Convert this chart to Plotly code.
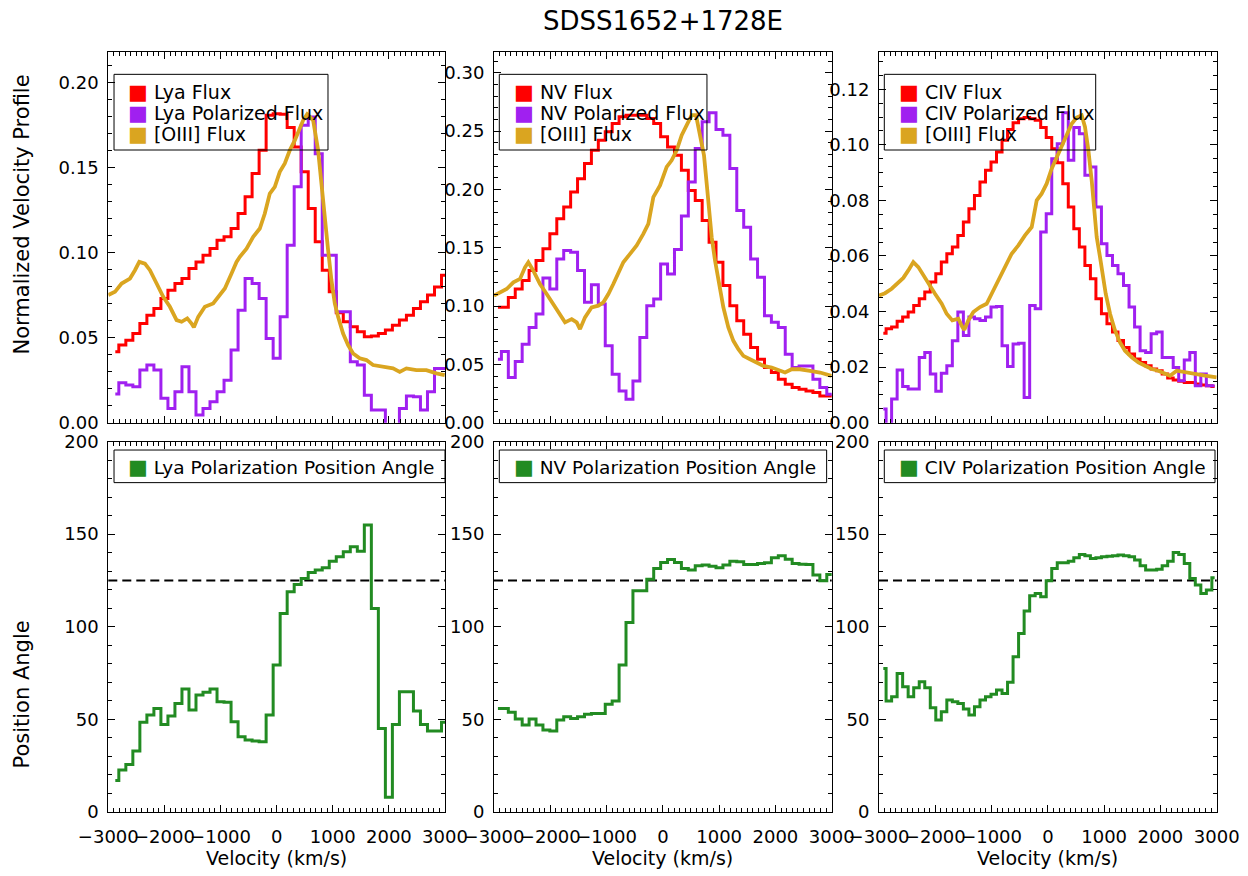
import plotly.graph_objects as go

TITLE = "SDSS1652+1728E"
FONT = "DejaVu Sans"
RED = "#FF0000"
PURPLE = "#A020F0"
GOLD = "#DAA520"
GREEN = "#228B22"
PA_REF = 125

# ---------------- Ly-alpha (125 km/s bins) ----------------
v_lya = [-2875, -2750, -2625, -2500, -2375, -2250, -2125, -2000, -1875, -1750,
         -1625, -1500, -1375, -1250, -1125, -1000, -875, -750, -625, -500,
         -375, -250, -125, 0, 125, 250, 375, 500, 625, 750,
         875, 1000, 1125, 1250, 1375, 1500, 1625, 1750, 1875, 2000,
         2125, 2250, 2375, 2500, 2625, 2750, 2875, 3000]
lya_flux = [0.0417, 0.0456, 0.0485, 0.0524, 0.0583, 0.0632, 0.0671, 0.0730, 0.0779, 0.0818,
            0.0847, 0.0906, 0.0945, 0.0984, 0.1023, 0.1072, 0.1092, 0.1141, 0.1229, 0.1327,
            0.1464, 0.1601, 0.1806, 0.1816, 0.1812, 0.1734, 0.1620, 0.1474, 0.1258, 0.1063,
            0.0896, 0.0769, 0.0646, 0.0593, 0.0564, 0.0534, 0.0505, 0.0509, 0.0524, 0.0544,
            0.0573, 0.0603, 0.0632, 0.0671, 0.0710, 0.0750, 0.0798, 0.0867]
lya_pol = [0.0168, 0.0235, 0.0221, 0.0211, 0.0309, 0.0339, 0.0309, 0.0143, 0.0084, 0.0182,
           0.0329, 0.0182, 0.0045, 0.0084, 0.0123, 0.0182, 0.0250, 0.0427, 0.0661, 0.0847,
           0.0818, 0.0730, 0.0495, 0.0378, 0.0622, 0.1043, 0.1386, 0.1748, 0.1796, 0.1581,
           0.0984, 0.0984, 0.0652, 0.0652, 0.0358, 0.0339, 0.0162, 0.0074, 0.0074, -0.005,
           -0.005, 0.0084, 0.0157, 0.0153, 0.0074, 0.0182, 0.0319, 0.0319]
lya_pa = [17.0, 22.7, 25.7, 32.9, 48.4, 52.3, 55.9, 47.3, 51.8, 58.6,
          66.4, 55.0, 63.1, 64.6, 66.4, 59.5, 59.2, 48.7, 40.6, 38.8,
          38.3, 37.9, 52.3, 79.3, 107.2, 118.9, 122.8, 126.0, 129.3, 130.6,
          131.8, 135.4, 137.8, 140.5, 143.2, 140.8, 154.9, 109.9, 45.1, 7.9,
          47.3, 64.9, 64.9, 54.5, 47.3, 43.7, 43.7, 48.4]
oiii_v_lya = [-3000, -2881, -2763, -2614, -2525, -2448, -2347, -2258, -2139, -2021,
              -1902, -1783, -1694, -1593, -1516, -1475, -1398, -1279, -1131, -1042,
              -923, -804, -715, -656, -537, -418, -300, -211, -122, -33,
              56, 145, 234, 323, 412, 472, 543, 650, 739, 798,
              858, 917, 976, 1036, 1095, 1184, 1273, 1362, 1481, 1599,
              1718, 1896, 2074, 2193, 2312, 2490, 2668, 2846, 2994]
oiii_f_lya = [0.0750, 0.0769, 0.0818, 0.0847, 0.0896, 0.0945, 0.0935, 0.0896, 0.0818, 0.0740,
              0.0681, 0.0603, 0.0593, 0.0613, 0.0583, 0.0560, 0.0622, 0.0681, 0.0701, 0.0740,
              0.0789, 0.0877, 0.0945, 0.0975, 0.1023, 0.1092, 0.1141, 0.1229, 0.1346, 0.1386,
              0.1474, 0.1523, 0.1601, 0.1659, 0.1738, 0.1777, 0.1812, 0.1777, 0.1601, 0.1405,
              0.1170, 0.1014, 0.0838, 0.0701, 0.0622, 0.0524, 0.0456, 0.0407, 0.0378, 0.0368,
              0.0339, 0.0329, 0.0319, 0.0299, 0.0319, 0.0309, 0.0309, 0.0290, 0.0280]

# ---------------- N V (123 km/s bins) ----------------
v_nv = [-2930, -2807, -2684, -2561, -2438, -2315, -2192, -2069, -1946, -1823,
        -1700, -1577, -1454, -1331, -1208, -1085, -962, -839, -716, -593,
        -470, -347, -224, -101, 22, 145, 268, 391, 514, 637,
        760, 883, 1006, 1129, 1252, 1375, 1498, 1621, 1744, 1867,
        1990, 2113, 2236, 2359, 2482, 2605, 2728, 2851, 2974, 3097]
nv_flux = [0.0989, 0.0989, 0.1074, 0.1146, 0.1218, 0.1304, 0.1390, 0.1490, 0.1619, 0.1748,
           0.1848, 0.1977, 0.2092, 0.2221, 0.2335, 0.2421, 0.2493, 0.2564, 0.2622, 0.2636,
           0.2636, 0.2636, 0.2607, 0.2564, 0.2450, 0.2364, 0.2292, 0.2163, 0.1991, 0.1905,
           0.1734, 0.1547, 0.1375, 0.1175, 0.1003, 0.0874, 0.0759, 0.0645, 0.0544, 0.0473,
           0.0430, 0.0372, 0.0330, 0.0301, 0.0287, 0.0272, 0.0258, 0.0229, 0.0229, 0.0221]
nv_pol = [0.0544, 0.0610, 0.0387, 0.0524, 0.0673, 0.0817, 0.0931, 0.1241, 0.1146, 0.1404,
          0.1476, 0.1461, 0.1304, 0.1032, 0.1183, 0.1017, 0.0659, 0.0415, 0.0272, 0.0201,
          0.0358, 0.0731, 0.1003, 0.1060, 0.1361, 0.1275, 0.1484, 0.1771, 0.2063, 0.2350,
          0.2579, 0.2656, 0.2513, 0.2464, 0.2178, 0.1819, 0.1676, 0.1404, 0.1246, 0.0917,
          0.0860, 0.0817, 0.0587, 0.0473, 0.0487, 0.0487, 0.0372, 0.0301, 0.0244, 0.0244]
nv_pa = [55.9, 55.9, 53.8, 50.2, 46.9, 50.2, 46.9, 44.2, 43.7, 49.6,
         51.4, 50.5, 51.4, 52.7, 53.2, 53.2, 58.1, 59.9, 79.3, 102.3,
         119.4, 119.4, 125.7, 131.5, 134.7, 136.3, 134.7, 131.5, 130.6, 132.9,
         133.3, 132.7, 131.8, 133.3, 135.4, 135.1, 133.6, 133.6, 134.2, 134.5,
         137.2, 138.3, 136.5, 134.2, 133.8, 133.6, 127.9, 124.8, 128.2, 128.2]
oiii_v_nv = [-3000, -2893, -2775, -2656, -2538, -2449, -2390, -2301, -2183, -2064,
             -1946, -1827, -1738, -1620, -1531, -1472, -1383, -1265, -1146, -1057,
             -968, -880, -791, -702, -583, -465, -347, -258, -169, -50,
             68, 157, 246, 335, 424, 512, 589, 660, 731, 779,
             826, 868, 927, 986, 1075, 1164, 1253, 1342, 1430, 1549,
             1667, 1786, 1934, 2082, 2171, 2289, 2437, 2615, 2793, 3000]
oiii_f_nv = [0.1089, 0.1117, 0.1146, 0.1203, 0.1232, 0.1332, 0.1375, 0.1304, 0.1189, 0.1103,
             0.1017, 0.0931, 0.0860, 0.0888, 0.0860, 0.0802, 0.0903, 0.0989, 0.1003, 0.1032,
             0.1103, 0.1189, 0.1275, 0.1375, 0.1447, 0.1519, 0.1619, 0.1705, 0.1934, 0.2034,
             0.2192, 0.2249, 0.2335, 0.2464, 0.2550, 0.2636, 0.2636, 0.2479, 0.2292, 0.2049,
             0.1791, 0.1590, 0.1390, 0.1218, 0.0989, 0.0817, 0.0702, 0.0630, 0.0573, 0.0544,
             0.0516, 0.0487, 0.0473, 0.0444, 0.0430, 0.0458, 0.0458, 0.0444, 0.0430, 0.0401]

# ---------------- C IV (98 km/s bins) ----------------
v_civ = [-2923, -2825, -2727, -2629, -2531, -2433, -2334, -2236, -2138, -2040,
         -1942, -1844, -1746, -1648, -1550, -1452, -1353, -1255, -1157, -1059,
         -961, -863, -765, -667, -569, -471, -372, -274, -176, -78,
         20, 118, 216, 314, 412, 510, 609, 707, 805, 903,
         1001, 1099, 1197, 1295, 1393, 1492, 1590, 1688, 1786, 1884,
         1982, 2080, 2178, 2276, 2374, 2473, 2571, 2669, 2767, 2865, 2963]
civ_flux = [0.0322, 0.0338, 0.0344, 0.0365, 0.0380, 0.0398, 0.0422, 0.0446, 0.0470, 0.0506,
            0.0536, 0.0578, 0.0608, 0.0632, 0.0674, 0.0722, 0.0770, 0.0818, 0.0866, 0.0908,
            0.0938, 0.0974, 0.1016, 0.1055, 0.1079, 0.1094, 0.1098, 0.1094, 0.1088, 0.1062,
            0.1026, 0.0986, 0.0935, 0.0860, 0.0776, 0.0698, 0.0632, 0.0566, 0.0518, 0.0446,
            0.0392, 0.0356, 0.0326, 0.0296, 0.0271, 0.0247, 0.0229, 0.0217, 0.0205, 0.0193,
            0.0187, 0.0175, 0.0161, 0.0154, 0.0149, 0.0145, 0.0145, 0.0139, 0.0136, 0.0133, 0.0130]
civ_pol = [0.0049, -0.003, 0.0085, 0.0190, 0.0130, 0.0121, 0.0121, 0.0235, 0.0253, 0.0175,
           0.0113, 0.0178, 0.0205, 0.0295, 0.0398, 0.0314, 0.0380, 0.0374, 0.0368, 0.0380,
           0.0416, 0.0418, 0.0277, 0.0202, 0.0283, 0.0286, 0.0091, 0.0422, 0.0410, 0.0686,
           0.0752, 0.0950, 0.1004, 0.1115, 0.0944, 0.1062, 0.1040, 0.0890, 0.0920, 0.0776,
           0.0644, 0.0602, 0.0566, 0.0536, 0.0494, 0.0416, 0.0344, 0.0259, 0.0253, 0.0320,
           0.0326, 0.0235, 0.0235, 0.0199, 0.0151, 0.0226, 0.0253, 0.0133, 0.0175, 0.0133, 0.0133]
civ_pa = [77.5, 59.9, 62.2, 74.8, 67.6, 62.2, 67.1, 70.3, 67.1, 56.3,
          49.6, 54.1, 60.4, 59.5, 58.6, 55.6, 52.3, 56.8, 60.4, 62.2,
          63.5, 65.8, 64.0, 70.0, 83.8, 96.4, 108.5, 116.7, 118.0, 116.2,
          124.8, 131.5, 134.5, 134.5, 135.4, 137.2, 139.0, 138.3, 136.9, 137.2,
          137.8, 138.1, 138.3, 138.7, 138.3, 137.8, 136.0, 132.9, 130.6, 130.6,
          131.1, 132.9, 135.4, 140.1, 139.0, 134.2, 126.1, 122.5, 118.0, 119.8, 126.4]
oiii_v_civ = [-3000, -2893, -2775, -2656, -2568, -2479, -2390, -2301, -2212, -2123,
              -2005, -1886, -1798, -1697, -1590, -1519, -1484, -1413, -1324, -1205,
              -1087, -998, -909, -820, -732, -643, -524, -406, -287, -198,
              -110, -21, 68, 157, 246, 335, 424, 512, 601, 660,
              720, 779, 826, 868, 927, 968, 1028, 1105, 1193, 1282,
              1371, 1490, 1608, 1727, 1845, 1963, 2082, 2171, 2289, 2437,
              2615, 2793, 3000]
oiii_f_civ = [0.0458, 0.0466, 0.0482, 0.0506, 0.0521, 0.0548, 0.0578, 0.0560, 0.0530, 0.0500,
              0.0464, 0.0428, 0.0392, 0.0368, 0.0374, 0.0344, 0.0334, 0.0368, 0.0398, 0.0416,
              0.0428, 0.0464, 0.0500, 0.0536, 0.0578, 0.0608, 0.0638, 0.0674, 0.0704, 0.0800,
              0.0824, 0.0860, 0.0914, 0.0956, 0.0998, 0.1034, 0.1076, 0.1098, 0.1106, 0.1064,
              0.0980, 0.0872, 0.0752, 0.0668, 0.0596, 0.0536, 0.0464, 0.0392, 0.0332, 0.0289,
              0.0259, 0.0235, 0.0217, 0.0205, 0.0193, 0.0187, 0.0175, 0.0169, 0.0187, 0.0181,
              0.0175, 0.0169, 0.0163]

ions = ["Lya", "NV", "CIV"]
flux_ranges = [[0, 0.218], [0, 0.318], [0, 0.1335]]
flux_dticks = [0.05, 0.05, 0.02]
flux_minor = [0.01, 0.01, 0.005]
PA_RANGE = [0, 200]

panels = [
    (v_lya, lya_flux, lya_pol, lya_pa, oiii_v_lya, oiii_f_lya),
    (v_nv, nv_flux, nv_pol, nv_pa, oiii_v_nv, oiii_f_nv),
    (v_civ, civ_flux, civ_pol, civ_pa, oiii_v_civ, oiii_f_civ),
]

W, H = 1248, 876
X_DOM = [[108.3 / W, 445.0 / W], [494.0 / W, 831.7 / W], [879.0 / W, 1216.7 / W]]
Y_TOP = [1 - 422.7 / H, 1 - 51.7 / H]
Y_BOT = [1 - 812.0 / H, 1 - 441.5 / H]

fig = go.Figure()

tickfont = dict(family=FONT, size=18, color="black")
LEG_SIZE_TOP = 19
LEG_SIZE_BOT = 18.5


def axname(i):
    return "" if i == 1 else str(i)


def xaxis_style(dom, anchor, labels):
    return dict(domain=dom, anchor=anchor, range=[-3000, 3000], dtick=1000, tick0=0,
                ticks="inside", ticklen=7, tickwidth=1, tickcolor="black",
                showline=True, linecolor="black", linewidth=1, mirror="ticks",
                showgrid=False, zeroline=False, tickangle=0, automargin=False,
                showticklabels=labels, tickfont=tickfont, ticklabelstandoff=8,
                minor=dict(dtick=100, ticks="inside", ticklen=4, tickwidth=1,
                           tickcolor="black", showgrid=False))


def yaxis_style(dom, anchor, rng, dt, mdt, fmt):
    return dict(domain=dom, anchor=anchor, range=rng, dtick=dt, tick0=0,
                ticks="inside", ticklen=7, tickwidth=1, tickcolor="black",
                showline=True, linecolor="black", linewidth=1, mirror="ticks",
                showgrid=False, zeroline=False, tickformat=fmt, automargin=False,
                tickfont=tickfont, ticklabelstandoff=5,
                minor=dict(dtick=mdt, ticks="inside", ticklen=4, tickwidth=1,
                           tickcolor="black", showgrid=False))


layout = {}
annotations = []
shapes = []

top_rows_y = [(422.7 - 91.7) / 371.0, (422.7 - 112.7) / 371.0, (422.7 - 134.3) / 371.0]
leg_x = [0.0535, 0.0528, 0.0528]
box_x0 = [0.017, 0.0157, 0.0157]
box_x1_top = [0.6525, 0.6306, 0.6417]
box_x1_bot = [1.0, 0.985, 0.995]

for c in range(3):
    v, flux, pol, pa, ov, of = panels[c]
    it = c + 1
    ib = c + 4
    xt, yt = "x" + axname(it), "y" + axname(it)
    xb, yb = "x" + axname(ib), "y" + axname(ib)

    layout["xaxis" + axname(it)] = xaxis_style(X_DOM[c], yt, False)
    layout["yaxis" + axname(it)] = yaxis_style(Y_TOP, xt, flux_ranges[c], flux_dticks[c],
                                               flux_minor[c], ".2f")
    layout["xaxis" + axname(ib)] = xaxis_style(X_DOM[c], yb, True)
    layout["yaxis" + axname(ib)] = yaxis_style(Y_BOT, xb, PA_RANGE, 50, 10, "d")

    fig.add_trace(go.Scatter(x=v, y=flux, mode="lines", xaxis=xt, yaxis=yt,
                             line=dict(color=RED, width=3, shape="hvh"), showlegend=False))
    fig.add_trace(go.Scatter(x=v, y=pol, mode="lines", xaxis=xt, yaxis=yt,
                             line=dict(color=PURPLE, width=3, shape="hvh"), showlegend=False))
    fig.add_trace(go.Scatter(x=ov, y=of, mode="lines", xaxis=xt, yaxis=yt,
                             line=dict(color=GOLD, width=3.8), showlegend=False))
    fig.add_trace(go.Scatter(x=v, y=pa, mode="lines", xaxis=xb, yaxis=yb,
                             line=dict(color=GREEN, width=3, shape="hvh"), showlegend=False))

    # reference position angle
    shapes.append(dict(type="line", xref=xb + " domain", x0=0, x1=1, yref=yb,
                       y0=PA_REF, y1=PA_REF, layer="below",
                       line=dict(color="black", width=2, dash="9px,5px")))

    # legend boxes
    shapes.append(dict(type="rect", xref=xt + " domain", yref=yt + " domain",
                       x0=box_x0[c], x1=box_x1_top[c], y0=0.735, y1=0.939,
                       line=dict(color="black", width=1), fillcolor="rgba(0,0,0,0)"))
    shapes.append(dict(type="rect", xref=xb + " domain", yref=yb + " domain",
                       x0=box_x0[c], x1=box_x1_bot[c], y0=0.889, y1=0.977,
                       line=dict(color="black", width=1), fillcolor="rgba(0,0,0,0)"))

    labels = [(RED, ions[c] + " Flux"), (PURPLE, ions[c] + " Polarized Flux"),
              (GOLD, "[OIII] Flux")]
    for (col, txt), yy in zip(labels, top_rows_y):
        annotations.append(dict(
            xref=xt + " domain", yref=yt + " domain", x=leg_x[c], y=yy,
            xanchor="left", yanchor="middle", showarrow=False,
            text='<span style="color:%s;font-size:21px">\u25A0</span> %s' % (col, txt),
            font=dict(family=FONT, size=LEG_SIZE_TOP, color="black")))
    annotations.append(dict(
        xref=xb + " domain", yref=yb + " domain", x=leg_x[c], y=(812 - 466.7) / 370.5,
        xanchor="left", yanchor="middle", showarrow=False,
        text='<span style="color:%s;font-size:21px">\u25A0</span> %s Polarization Position Angle'
             % (GREEN, ions[c]),
        font=dict(family=FONT, size=LEG_SIZE_BOT, color="black")))

    # x-axis title
    annotations.append(dict(
        xref=xb + " domain", yref="paper", x=0.5, y=1 - 858 / H, xanchor="center",
        yanchor="middle", showarrow=False, text="Velocity (km/s)",
        font=dict(family=FONT, size=19, color="black")))

annotations.append(dict(xref="paper", yref="paper", x=21.5 / W, y=1 - 215 / H,
                        textangle=-90, showarrow=False, xanchor="center", yanchor="middle",
                        text="Normalized Velocity Profile",
                        font=dict(family=FONT, size=21, color="black")))
annotations.append(dict(xref="paper", yref="paper", x=21.5 / W, y=1 - 695 / H,
                        textangle=-90, showarrow=False, xanchor="center", yanchor="middle",
                        text="Position Angle",
                        font=dict(family=FONT, size=21, color="black")))

fig.update_layout(**layout)
fig.update_layout(
    width=W, height=H, margin=dict(l=0, r=0, t=0, b=0, pad=0, autoexpand=False),
    paper_bgcolor="white", plot_bgcolor="white",
    title=dict(text=TITLE, x=663 / W, xanchor="center", y=1 - 21 / H, yanchor="middle",
               font=dict(family=FONT, size=26, color="black")),
    annotations=annotations, shapes=shapes, showlegend=False,
)

fig.write_html("out.html")
